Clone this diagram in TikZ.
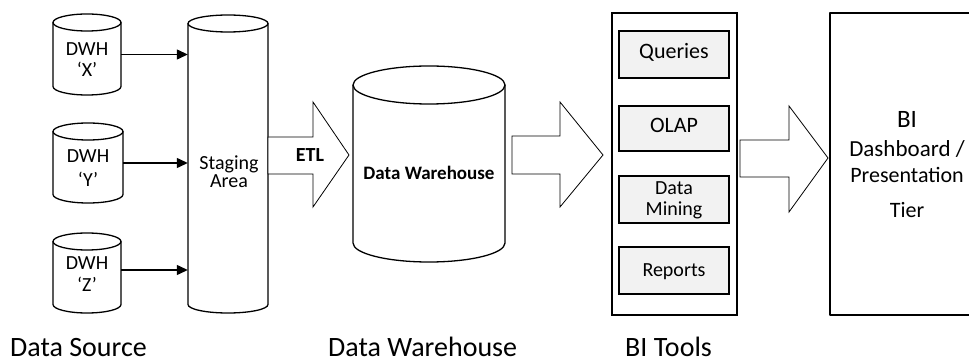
\documentclass[tikz,border=0pt]{standalone}
\usepackage{fontspec}
\setmainfont{Carlito}
\usetikzlibrary{arrows.meta}
\definecolor{toolgray}{HTML}{F2F2F2}
\newcommand{\drawcyl}[5]{%
  \draw[outline] ({(#1+#2)/2},{-(#3)-(#5)}) ellipse[x radius={(#2-#1)/2*1pt}, y radius=#5pt];
  \draw[outline] (#1,{-(#3)-(#5)}) -- (#1,{-(#4)+(#5)})
     arc[start angle=180,end angle=360,x radius={(#2-#1)/2*1pt},y radius=#5pt]
     -- (#2,{-(#3)-(#5)});
}
\begin{document}
\begin{tikzpicture}[x=1pt,y=1pt,
  outline/.style={draw=black,line width=1.3pt,line join=round},
  blockarrow/.style={draw=black,line width=0.8pt,fill=white},
  toolbox/.style={draw=black,line width=1.8pt,fill=toolgray,inner sep=0pt},
  body/.style={inner sep=0pt},
  conn/.style={draw=black,line width=1.3pt,-{Triangle[length=11pt,width=10pt]}},
  tx/.style={inner sep=0pt,anchor=base},
  f20/.style={tx,font=\fontsize{20}{22}\selectfont},
  f22/.style={tx,font=\fontsize{22}{24}\selectfont},
  f23/.style={tx,font=\fontsize{23}{25}\selectfont},
  f25/.style={tx,font=\fontsize{25}{27}\selectfont},
  f28/.style={inner sep=0pt,anchor=base west,font=\fontsize{28}{30}\selectfont},
  b19/.style={tx,font=\fontsize{19}{21}\selectfont\bfseries},
  b20/.style={tx,font=\fontsize{20}{22}\selectfont\bfseries},
]
\fill[white] (0,0) rectangle (969,-363);
\useasboundingbox (0,0) rectangle (969,-363);

% source cylinders
\drawcyl{53}{121}{14}{95}{8.5}
\drawcyl{53}{123}{123}{203}{8.5}
\drawcyl{53}{121}{233}{313}{8.5}
\node[body,minimum width=68pt,minimum height=81pt] (dwx) at (87,-54.5) {};
\node[body,minimum width=70pt,minimum height=80pt] (dwy) at (88,-163) {};
\node[body,minimum width=68pt,minimum height=80pt] (dwz) at (87,-273) {};
\node[f20] (dwxa) at (87,-56) {DWH};
\node[f20] (dwxb) at (87,-77) {‘X’};
\node[f20] (dwya) at (88,-163) {DWH};
\node[f20] (dwyb) at (88,-187) {‘Y’};
\node[f20] (dwza) at (87,-270) {DWH};
\node[f20] (dwzb) at (87,-292) {‘Z’};

% staging
\drawcyl{188}{268}{15}{313}{8.5}
\node[body,minimum width=80pt,minimum height=298pt] (stg) at (228,-164) {};
\node[f20] (stga) at (229,-170) {Staging};
\node[f20] (stgb) at (229,-188) {Area};

\draw[conn] (dwx.east) -- (dwx.east -| stg.west);
\draw[conn] (dwy.east) -- (dwy.east -| stg.west);
\draw[conn] ([yshift=3pt]dwz.east) -- ([yshift=3pt]dwz.east -| stg.west);

% ETL arrow
\draw[blockarrow] (268,-137) -- (313,-137) -- (313,-102) -- (349,-155) -- (313,-207) -- (313,-174) -- (268,-174) -- cycle;
\node[b20] (etl) at (310,-162) {ETL};

% data warehouse
\drawcyl{353}{505}{66}{262}{19}
\node[body,minimum width=152pt,minimum height=196pt] (dw) at (429,-164) {};
\node[b19] (dwt) at (429,-180) {Data Warehouse};

% arrow 2
\draw[blockarrow] (512,-136) -- (560,-136) -- (560,-102) -- (603,-155) -- (560,-207) -- (560,-174) -- (512,-174) -- cycle;

% BI tools
\node[draw=black,line width=1.3pt,inner sep=0pt,minimum width=125pt,minimum height=302pt] (bit) at (674.5,-164) {};
\node[toolbox,minimum width=110pt,minimum height=47pt] (q) at (674,-54.5) {};
\node[toolbox,minimum width=110pt,minimum height=45pt] (olap) at (674,-128.5) {};
\node[toolbox,minimum width=110pt,minimum height=47pt] (dm) at (674,-199.5) {};
\node[toolbox,minimum width=110pt,minimum height=47pt] (rep) at (674,-270.5) {};
\node[f22] (qt) at (674,-59) {Queries};
\node[f22] (olapt) at (674,-133) {OLAP};
\node[f20] (dmta) at (674,-195) {Data};
\node[f20] (dmtb) at (674,-216) {Mining};
\node[f20] (rept) at (674,-277) {Reports};

% arrow 3
\draw[blockarrow] (740,-140) -- (789,-140) -- (789,-106) -- (828,-158) -- (789,-212) -- (789,-177) -- (740,-177) -- cycle;

% BI presentation
\draw[outline] (970,-13) -- (830,-13) -- (830,-315) -- (970,-315);
\node[f25] (bia) at (907,-128) {BI};
\node[f23] (bib) at (907,-157) {Dashboard /};
\node[f22] (bic) at (907,-183) {Presentation};
\node[f22] (bid) at (907,-218) {Tier};

% bottom labels
\node[f28] (l1) at (10,-356) {Data Source};
\node[f28] (l2) at (328,-356) {Data Warehouse};
\node[f28] (l3) at (625,-356) {BI Tools};
\end{tikzpicture}
\end{document}
